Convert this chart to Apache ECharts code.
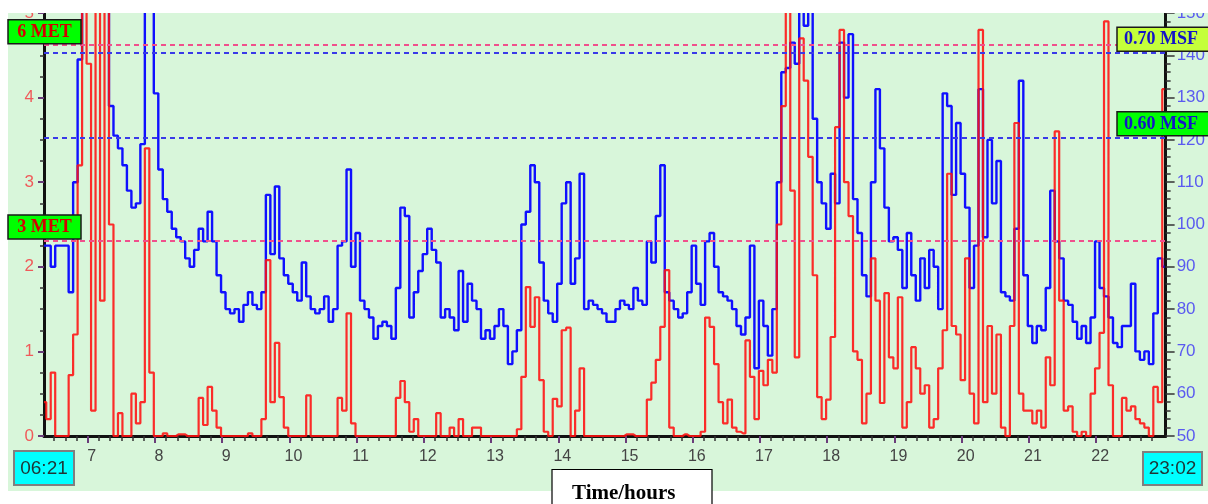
<!DOCTYPE html>
<html>
<head>
<meta charset="utf-8">
<script src="https://cdn.jsdelivr.net/npm/echarts@6.0.0/dist/echarts.min.js"></script>
<style>
html,body{margin:0;padding:0;background:#fff;}
#chart{width:1208px;height:504px;}
</style>
</head>
<body>
<div id="chart"></div>
<script>
// ---- data ----
const START_MIN = 381;   // 06:21
const END_MIN = 1382;    // 23:02
const STEP_MIN = 4;      // sampling step of the readings, minutes
const startLabel = '06:21';
const endLabel = '23:02';
const hourTicks = [7, 8, 9, 10, 11, 12, 13, 14, 15, 16, 17, 18, 19, 20, 21, 22];
const metLines = [2.31, 4.62];
const metLabels = ['3 MET', '6 MET'];
const msfLines = [120.6, 140.6];
const msfLabels = ['0.60 MSF', '0.70 MSF'];
const axisTitle = 'Time/hours';

// heart rate (right axis, bpm)
const blueHr = [
 95,95,90,95,95,95,84,110,139,160,165,165,165,165,160,128,121,118,114,108,
 104,105,119,160,160,131,113,106,103,99,97,96,92,90,94,99,96,103,96,88,
 84,80,79,80,77,81,84,81,80,84,107,93,109,92,88,86,84,82,91,83,
 80,79,80,83,77,80,95,96,113,90,98,82,80,78,73,76,77,76,73,85,
 104,102,78,84,89,93,99,94,91,78,80,78,75,89,77,86,82,80,73,75,
 73,76,80,76,67,70,75,100,103,114,110,91,82,79,77,86,105,110,86,92,
 112,80,82,81,80,79,77,77,80,82,81,80,85,82,81,96,91,102,114,84,
 82,80,78,79,84,95,86,81,96,98,90,84,83,82,80,76,74,78,95,66,
 82,76,69,80,110,136,137,143,138,160,147,160,125,110,105,99,112,105,143,130,
 145,106,98,88,83,110,132,118,104,96,97,94,85,98,88,82,92,85,94,90,
 80,131,128,107,124,112,104,85,95,132,97,120,105,115,84,83,82,99,134,88,
 76,72,76,75,85,108,96,92,82,81,77,73,76,72,78,96,85,83,78,72,
 71,76,76,86,70,68,70,67,79,92,90
];

// activity (left axis)
const redMet = [
 0.4,0.2,0.75,0,0,0,0.72,1.2,3.2,5.5,4.4,0.3,5.5,1.6,5.5,2.5,0,0.27,0,0,
 0.5,0.15,0.4,3.4,0.75,0,0,0.03,0,0,0.02,0.02,0,0,0,0.45,0.13,0.58,0.3,0.1,
 0,0,0,0,0,0,0.03,0,0,0.2,2.08,0.4,1.1,0.46,0.1,0,0,0,0,0.48,
 0,0,0,0,0,0,0.45,0.3,1.45,0.15,0,0,0,0,0,0,0,0,0,0.45,
 0.65,0.4,0.05,0.2,0,0,0,0,0.27,0,0,0.1,0,0.2,0,0,0.1,0.1,0,0,
 0,0,0,0,0,0,0.08,0.7,1.76,1.29,1.64,0.66,0.05,0,0.44,0.35,1.25,1.28,0,0.3,
 0.8,0,0,0,0,0,0,0,0,0,0.02,0.02,0,0,0,0.43,0.63,0.9,1.29,1.96,
 0.1,0,0,0.02,0,0,0,0.05,1.4,1.29,0.85,0.4,0.15,0.43,0.1,0.05,0.03,1.13,0.7,0.2,
 0.77,0.6,0.9,0.75,2.5,3.9,5.5,2.9,0.93,4.7,4.2,3.3,1.9,0.46,0.2,0.43,1.17,3.65,4.8,3.0,
 2.6,1.0,0.9,0.15,0.5,2.1,1.6,0.39,1.69,0.93,0.8,1.64,0.1,0.4,1.05,0.8,0.5,0.6,0.1,0.2,
 0.8,1.25,3.1,1.3,1.2,0.66,2.1,0.5,0.15,4.8,0.4,1.3,0.5,1.2,0.1,0,1.3,3.7,0.5,0.3,
 0.3,0.15,0.3,0.1,0.93,0.6,3.6,1.6,0.3,0.35,0.05,0,0.05,0,0.5,0.8,1.22,4.9,0.6,0,
 0,0.45,0.3,0.35,0.2,0.15,0.1,0,0.58,0.4,4.1
];

// ---- build ----
const times = blueHr.map((_, i) => START_MIN + i * STEP_MIN);
const blueData = times.map((t, i) => [t, blueHr[i]]);
const redData = times.map((t, i) => [t, redMet[i]]);
const hourVals = hourTicks.map(h => h * 60);
const minorVals = [];
for (let m = Math.ceil(START_MIN / 10) * 10; m <= END_MIN; m += 10) {
  if (m % 60 !== 0) minorVals.push(m);
}

const chart = echarts.init(document.getElementById('chart'), null, {renderer: 'canvas'});

const serifBold = '"Liberation Serif", "Times New Roman", serif';
const sans = '"Liberation Sans", Arial, sans-serif';

const option = {
  animation: false,
  backgroundColor: '#ffffff',
  grid: {left: 44, right: 41, top: 13, bottom: 68, containLabel: false},
  xAxis: [
    {
      type: 'value', min: START_MIN, max: END_MIN, position: 'bottom',
      axisLine: {show: true, onZero: false, lineStyle: {color: '#111', width: 3}},
      axisTick: {show: true, customValues: minorVals, length: 5, lineStyle: {color: '#333', width: 1.5}},
      axisLabel: {show: false},
      splitLine: {show: false}
    },
    {
      type: 'value', min: START_MIN, max: END_MIN, position: 'bottom',
      axisLine: {show: false, onZero: false},
      axisTick: {show: true, customValues: hourVals, length: 7, lineStyle: {color: '#6a3d7a', width: 2}},
      axisLabel: {
        show: true, customValues: hourVals, formatter: v => String(Math.round(v / 60)),
        color: '#444', fontSize: 16, fontFamily: sans, margin: 13, padding: [0, 0, 0, 8]
      },
      splitLine: {show: false}
    }
  ],
  yAxis: [
    {
      type: 'value', min: 0, max: 5, interval: 1, position: 'left',
      axisLine: {show: true, onZero: false, lineStyle: {color: '#111', width: 3}},
      axisTick: {show: true, length: 6, lineStyle: {color: '#6a3d7a', width: 2}},
      minorTick: {show: true, splitNumber: 4, length: 4, lineStyle: {color: '#333', width: 1.5}},
      axisLabel: {color: '#f05a5a', fontSize: 17, fontFamily: sans, margin: 10},
      splitLine: {show: false}
    },
    {
      type: 'value', min: 50, max: 150, interval: 10, position: 'right',
      axisLine: {show: true, onZero: false, lineStyle: {color: '#111', width: 3}},
      axisTick: {show: true, length: 9, lineStyle: {color: '#333', width: 1.5}},
      minorTick: {show: true, splitNumber: 5, length: 5, lineStyle: {color: '#333', width: 1.5}},
      axisLabel: {color: '#5a5af0', fontSize: 17, fontFamily: sans, margin: 11},
      splitLine: {show: false}
    }
  ],
  series: [
    {
      name: 'HR', type: 'line', xAxisIndex: 0, yAxisIndex: 1,
      data: blueData, step: 'middle', showSymbol: false, symbol: 'none',
      lineStyle: {color: '#1010ff', width: 2.4},
      z: 3,
      markLine: {
        silent: true, symbol: 'none', label: {show: false},
        lineStyle: {color: '#3a3ae8', width: 2, type: [5, 4]},
        data: msfLines.map(v => ({yAxis: v}))
      }
    },
    {
      name: 'MET', type: 'line', xAxisIndex: 0, yAxisIndex: 0,
      data: redData, step: 'middle', showSymbol: false, symbol: 'none',
      lineStyle: {color: '#ff1010', width: 2.2, opacity: 0.88},
      z: 4,
      markLine: {
        silent: true, symbol: 'none', label: {show: false},
        lineStyle: {color: '#f0508c', width: 2, type: [5, 4]},
        data: metLines.map(v => ({yAxis: v}))
      }
    }
  ]
};
chart.setOption(option);

function textEl(x, y, text, font, fill, align) {
  return {
    type: 'text', x: x, y: y, z: 102, silent: true,
    style: {
      text: text, font: font, fill: fill,
      align: align || 'center', verticalAlign: 'middle',
      textAlign: align || 'center', textVerticalAlign: 'middle'
    }
  };
}
function rectEl(x, y, w, h, fill, stroke, lw, z) {
  return {
    type: 'rect', z: z === undefined ? 100 : z, silent: true,
    shape: {x: x, y: y, width: w, height: h},
    style: {fill: fill, stroke: stroke, lineWidth: lw}
  };
}

const els = [];
// pale green panel behind the plot
els.push({type: 'rect', z: -10, silent: true, shape: {x: 8, y: 13, width: 1200, height: 478}, style: {fill: '#d8f6da'}});
// white strip over the top edge (clips the top tick labels)
els.push(rectEl(0, 0, 1208, 13, '#ffffff', null, 0, 99));

metLines.forEach((v, i) => {
  const py = chart.convertToPixel({yAxisIndex: 0}, v);
  const h = 24, y0 = py - 1.5 - h;
  els.push(rectEl(8, y0, 73, h, '#00ff00', '#1a1a1a', 1.5));
  els.push(textEl(44.5, y0 + h / 2 + 0.5, metLabels[i], 'bold 18px ' + serifBold, '#d40000'));
});
msfLines.forEach((v, i) => {
  const py = chart.convertToPixel({yAxisIndex: 1}, v);
  const h = 24, y0 = py - 1.5 - h;
  const fill = i === 1 ? '#c4ff3a' : '#00ff00';
  els.push(rectEl(1117, y0, 95, h, fill, '#1a1a1a', 1.5));
  els.push(textEl(1124, y0 + h / 2 + 0.5, msfLabels[i], 'bold 18px ' + serifBold, '#1414c8', 'left'));
});

// start / end time boxes
els.push(rectEl(14, 451, 60, 34, '#00ffff', '#7f7f7f', 2));
els.push(textEl(44, 468.5, startLabel, '19px ' + sans, '#1f3535'));
els.push(rectEl(1143, 452, 59, 33, '#00ffff', '#7f7f7f', 2));
els.push(textEl(1172.5, 468.5, endLabel, '19px ' + sans, '#1f3535'));

// axis title box
els.push(rectEl(552, 469.5, 160, 40, '#ffffff', '#000000', 1.2));
els.push(textEl(572, 494, axisTitle, 'bold 21px ' + serifBold, '#000000', 'left'));

chart.setOption({graphic: {elements: els}});
</script>
</body>
</html>
